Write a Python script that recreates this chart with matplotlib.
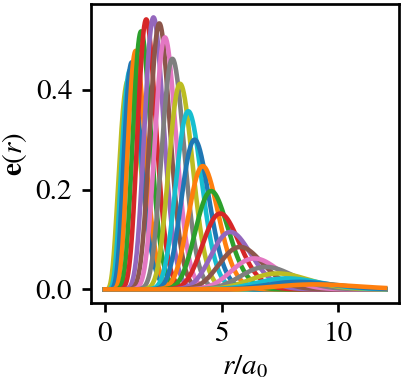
import numpy as np
import matplotlib.pyplot as plt

# Serif look like the reference (Times-like)
plt.rcParams['font.family'] = 'serif'
plt.rcParams['font.serif'] = ['STIXGeneral', 'DejaVu Serif']
plt.rcParams['mathtext.fontset'] = 'stix'
plt.rcParams['font.size'] = 14

# Peak position (r/a0), peak height and approximate width of each curve,
# in the order they were drawn
peak_r = [1.0, 1.08, 1.15, 1.32, 1.55, 1.77, 2.08, 2.33, 2.57, 2.89,
          3.22, 3.57, 3.84, 4.19, 4.55, 4.94, 5.37, 5.79, 6.40, 6.90,
          7.40, 7.80, 8.30, 9.00]
peak_e = [0.42, 0.44, 0.455, 0.478, 0.517, 0.541, 0.545, 0.533, 0.505, 0.462,
          0.412, 0.357, 0.300, 0.247, 0.197, 0.152, 0.115, 0.085, 0.062, 0.045,
          0.032, 0.022, 0.015, 0.010]
width = [0.44, 0.40, 0.37, 0.37, 0.38, 0.39, 0.41, 0.43, 0.45, 0.48,
         0.51, 0.55, 0.59, 0.64, 0.70, 0.78, 0.85, 0.93, 1.02, 1.12,
         1.25, 1.35, 1.45, 1.70]

r = np.linspace(0, 12, 1200)

fig = plt.figure(figsize=(404 / 150, 384 / 150), dpi=150)
ax = fig.add_axes([0.225, 0.211, 0.763, 0.779])

for i, (p, h, w) in enumerate(zip(peak_r, peak_e, width)):
    # skewed bump with the given peak and width
    k = (p / w) ** 2
    e = h * np.exp(k * (np.log(np.maximum(r, 1e-9) / p) - r / p + 1))
    ax.plot(r, e, lw=2.2, color='C%d' % ((i + 8) % 10))

ax.set_xticks([0, 5, 10])
ax.set_yticks([0.0, 0.2, 0.4])
ax.set_xlabel(r'$r/a_0$', labelpad=3)
ax.set_ylabel(r'$\mathbf{e}(r)$', labelpad=3)
ax.tick_params(width=1.3, length=4.5, pad=4.5)
for s in ax.spines.values():
    s.set_linewidth(1.3)

fig.savefig('out.png', dpi=150)
